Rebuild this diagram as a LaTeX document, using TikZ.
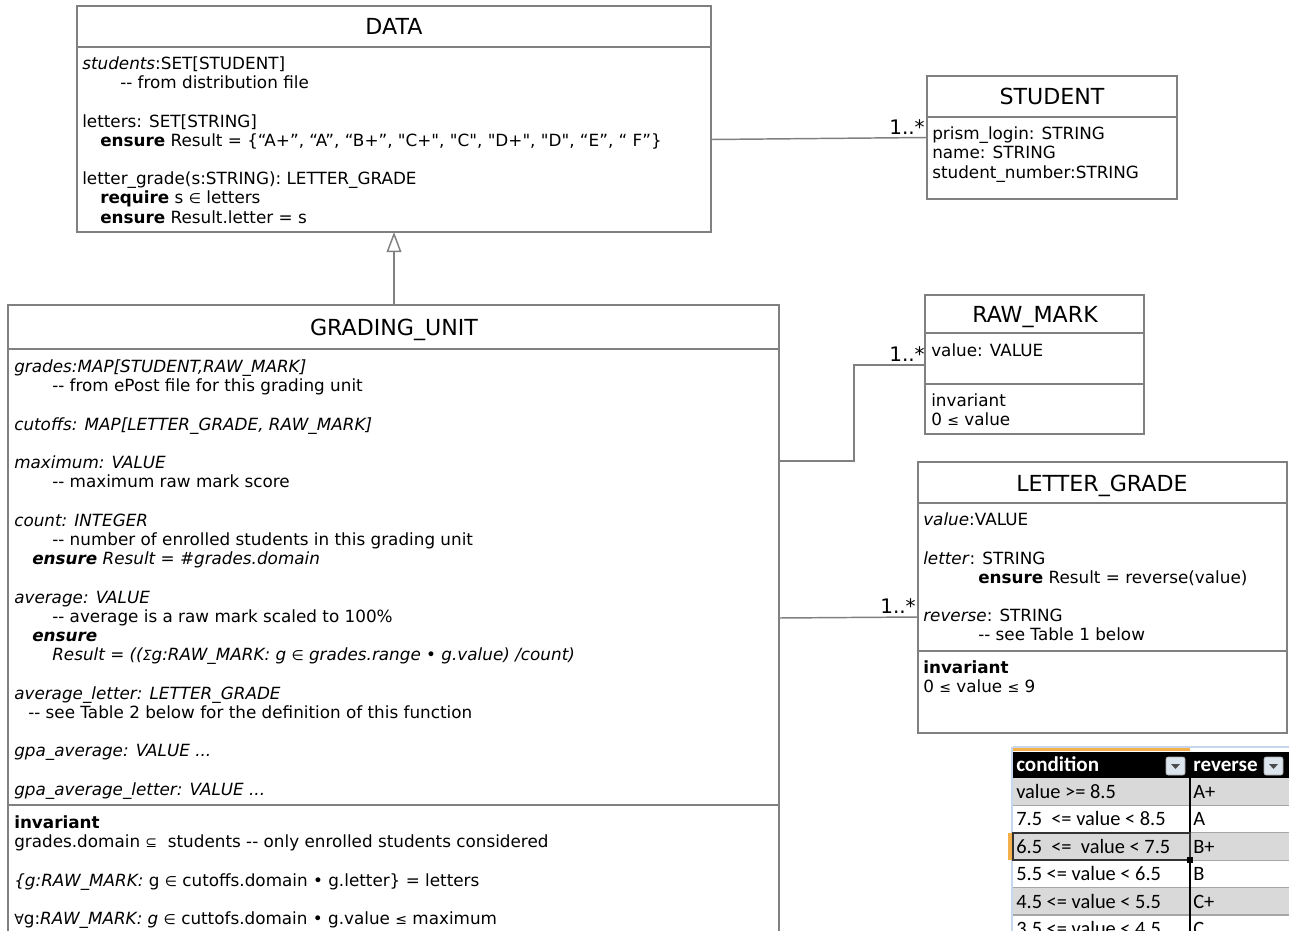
\documentclass[tikz,border=0pt]{standalone}
\usepackage{fontspec}
\setmainfont{DejaVu Sans}
\newfontfamily\umlfont{DejaVu Sans}
\newfontfamily\xlfont{Carlito}
\usepackage{tikz}
\usetikzlibrary{arrows.meta}
\definecolor{umlgray}{HTML}{808080}
\definecolor{rowgray}{HTML}{D9D9D9}
\definecolor{gridgray}{HTML}{A6A6A6}
\definecolor{xlorange}{HTML}{F4B04A}
\definecolor{xlblue}{HTML}{C6D6EC}
\definecolor{btnfill}{HTML}{DCE4EE}
\newcommand{\bodyfont}{\umlfont\fontsize{12.6}{14.4}\selectfont}
\newcommand{\titlefont}{\umlfont\fontsize{16.6}{19}\selectfont}
\newcommand{\sm}[1]{{\fontsize{10.5}{10}\selectfont #1}}
\newcommand{\dd}{\mbox{-}\mbox{-}}
\newcommand{\skipline}{\\[14.4pt]}

\begin{document}
\begin{tikzpicture}[x=0.75pt,y=-0.75pt,
    box/.style={draw=umlgray, line width=1.1pt},
    assoc/.style={draw=umlgray, line width=1.1pt},
    title/.style={anchor=base, inner sep=0pt, font=\titlefont},
    txt/.style={anchor=north west, inner sep=0pt, align=left, font=\bodyfont},
    mult/.style={anchor=base east, inner sep=0pt, font=\umlfont\fontsize{15}{16}\selectfont},
    cell/.style={anchor=base west, inner sep=0pt}]
        \useasboundingbox (0,0) rectangle (1289,931);
        \clip (0,0) rectangle (1289,931);
        \fill[white] (0,0) rectangle (1289,931);

        % coordinates
        \coordinate (data-nw) at (77,6);
        \coordinate (data-se) at (711,232);
        \coordinate (data-s) at (394,232);
        \coordinate (data-e) at (711,139.5);
        \coordinate (student-nw) at (927,76);
        \coordinate (student-se) at (1177,199);
        \coordinate (student-w) at (927,137.5);
        \coordinate (gu-nw) at (8,305);
        \coordinate (gu-se) at (779,945);
        \coordinate (gu-n) at (394,305);
        \coordinate (gu-e1) at (779,461);
        \coordinate (gu-bend) at (854,461);
        \coordinate (gu-bend2) at (854,365);
        \coordinate (gu-e2) at (779,618);
        \coordinate (raw-nw) at (925,295);
        \coordinate (raw-se) at (1144,434);
        \coordinate (raw-w) at (925,365);
        \coordinate (lg-nw) at (918,462);
        \coordinate (lg-se) at (1287,733);
        \coordinate (lg-w) at (918,617);

        % boxes
        \draw[box] (data-nw) rectangle (data-se);
        \draw[box] (77,47) -- (711,47);
        \draw[box] (student-nw) rectangle (student-se);
        \draw[box] (927,117) -- (1177,117);
        \draw[box] (gu-nw) rectangle (gu-se);
        \draw[box] (8,349) -- (779,349);
        \draw[box] (8,805) -- (779,805);
        \draw[box] (raw-nw) rectangle (raw-se);
        \draw[box] (925,333) -- (1144,333);
        \draw[box] (925,384) -- (1144,384);
        \draw[box] (lg-nw) rectangle (lg-se);
        \draw[box] (918,503) -- (1287,503);
        \draw[box] (918,651) -- (1287,651);

        % connectors
        \draw[assoc, -{Triangle[open, length=15pt, width=11pt]}] (gu-n) -- (data-s);
        \draw[assoc] (data-e) -- (student-w);
        \draw[assoc] (gu-e1) -- (gu-bend) -- (gu-bend2) -- (raw-w);
        \draw[assoc] (gu-e2) -- (lg-w);
        \node[mult] (m-student) at (925,134) {1..*};
        \node[mult] (m-raw) at (925,361) {1..*};
        \node[mult] (m-lg) at (916,613) {1..*};

        % titles
        \node[title] (data-title) at (394,35) {DATA};
        \node[title] (student-title) at (1052,104) {STUDENT};
        \node[title] (gu-title) at (394,335) {GRADING\_UNIT};
        \node[title] (raw-title) at (1035,322) {RAW\_MARK};
        \node[title] (lg-title) at (1102,491) {LETTER\_GRADE};

        % DATA
        \node[txt] (data-attr) at (82,55.7) {\strut\textit{students}:SET[STUDENT]\\
          \hspace*{28.5pt}\dd{} from distribution file\skipline
          letters: SET[STRING]\\
          \hspace*{13.5pt}\textbf{ensure} Result = \{“A+”, “A”, “B+”, "C+", "C", "D+", "D", “E”, “ F”\}\skipline
          letter\_grade(s:STRING): LETTER\_GRADE\\
          \hspace*{13.5pt}\textbf{require} s \sm{∈} letters\\
          \hspace*{13.5pt}\textbf{ensure} Result.letter = s};

        % STUDENT
        \node[txt] (student-attr) at (932,126) {\strut prism\_login: STRING\\
          name: STRING\\
          student\_number:STRING};

        % GRADING_UNIT
        \node[txt] (gu-attr) at (14,359) {\strut\textit{grades:MAP[STUDENT,RAW\_MARK]}\\
          \hspace*{28.5pt}\dd{} from ePost file for this grading unit\skipline
          \textit{cutoffs: MAP[LETTER\_GRADE, RAW\_MARK]}\skipline
          \textit{maximum: VALUE}\\
          \hspace*{28.5pt}\dd{} maximum raw mark score\skipline
          \textit{count: INTEGER}\\
          \hspace*{28.5pt}\dd{} number of enrolled students in this grading unit\\
          \hspace*{13.5pt}\textbf{\textit{ensure}} \textit{Result = \#grades.domain}\skipline
          \textit{average: VALUE}\\
          \hspace*{28.5pt}\dd{} average is a raw mark scaled to 100\%\\
          \hspace*{13.5pt}\textbf{\textit{ensure}}\\
          \hspace*{28.5pt}\textit{Result = ((\sm{Σ}g:RAW\_MARK: g \sm{∈} grades.range • g.value) /count)}\skipline
          \textit{average\_letter: LETTER\_GRADE}\\
          \hspace*{10.5pt}\dd{} see Table 2 below for the definition of this function\skipline
          \textit{gpa\_average: VALUE ...}\skipline
          \textit{gpa\_average\_letter: VALUE ...}};
        \node[txt] (gu-inv) at (14,815) {\strut\textbf{invariant}\\
          grades.domain \sm{⊆}\ \ students \dd{} only enrolled students considered\skipline
          \textit{\{g:RAW\_MARK:} g \sm{∈} cutoffs.domain • g.letter\} = letters\skipline
          \sm{∀}g:\textit{RAW\_MARK: g} \sm{∈} cuttofs.domain • g.value \sm{≤} maximum};

        % RAW_MARK
        \node[txt] (raw-attr) at (931,343) {\strut value: VALUE};
        \node[txt] (raw-inv) at (931,393) {\strut invariant\\
          0 \sm{≤} value};

        % LETTER_GRADE
        \node[txt] (lg-attr) at (923,512) {\strut\textit{value}:VALUE\skipline
          \textit{letter}: STRING\\
          \hspace*{41.25pt}\textbf{ensure} Result = reverse(value)\skipline
          \textit{reverse}: STRING\\
          \hspace*{41.25pt}\dd{} see Table 1 below};
        \node[txt] (lg-inv) at (923,660) {\strut\textbf{invariant}\\
          0 \sm{≤} value \sm{≤} 9};

        % table
        \begin{scope}[font=\xlfont\fontsize{15.3}{18}\selectfont]
        \draw[xlblue, line width=1pt] (1013,747) -- (1289,747);
        \draw[xlblue, line width=1pt] (1012,747) -- (1012,931);
        \fill[xlorange] (1013,748) rectangle (1190,751);
        \fill[black] (1013,752) rectangle (1289,778);
        \foreach \cond/\rev [count=\i] in {value >= 8.5/A+, 7.5\ \ <= value < 8.5/A,
            6.5\ \ <=\ \ value < 7.5/B+, 5.5 <= value < 6.5/B, 4.5 <= value < 5.5/C+,
            3.5 <= value < 4.5/C}{
          \pgfmathsetmacro{\rowtop}{778+27.4*(\i-1)}
          \ifodd\i
            \fill[rowgray] (1013,\rowtop) rectangle (1289,\rowtop+27.4);
          \fi
          \draw[gridgray, line width=0.8pt] (1013,\rowtop+27.4) -- (1289,\rowtop+27.4);
          \node[cell] (cond\i) at (1016,\rowtop+20.5) {\cond};
          \node[cell] (rev\i) at (1193,\rowtop+20.5) {\rev};
        }
        \draw[black, line width=0.8pt] (1190,778) -- (1190,931);
        \node[cell, text=white, font=\xlfont\bfseries\fontsize{15.8}{18}\selectfont] (cond-head) at (1016,771) {condition};
        \node[cell, text=white, font=\xlfont\bfseries\fontsize{15.8}{18}\selectfont] (rev-head) at (1193,771) {reverse};
        % drop-down buttons
        \foreach \bx in {1166,1264}{
          \draw[gridgray, fill=btnfill, rounded corners=1.5pt] (\bx,757) rectangle (\bx+19,775);
          \fill[black!70] (\bx+5,764) -- (\bx+14,764) -- (\bx+9.5,769) -- cycle;
        }
        % selected cell
        \fill[xlorange] (1008,832.8) rectangle (1012,860.2);
        \draw[black!80, line width=1.6pt] (1013,832.8) rectangle (1190,860.2);
        \fill[black] (1187,857.2) rectangle (1193,863.2);
        \end{scope}
\end{tikzpicture}
\end{document}
